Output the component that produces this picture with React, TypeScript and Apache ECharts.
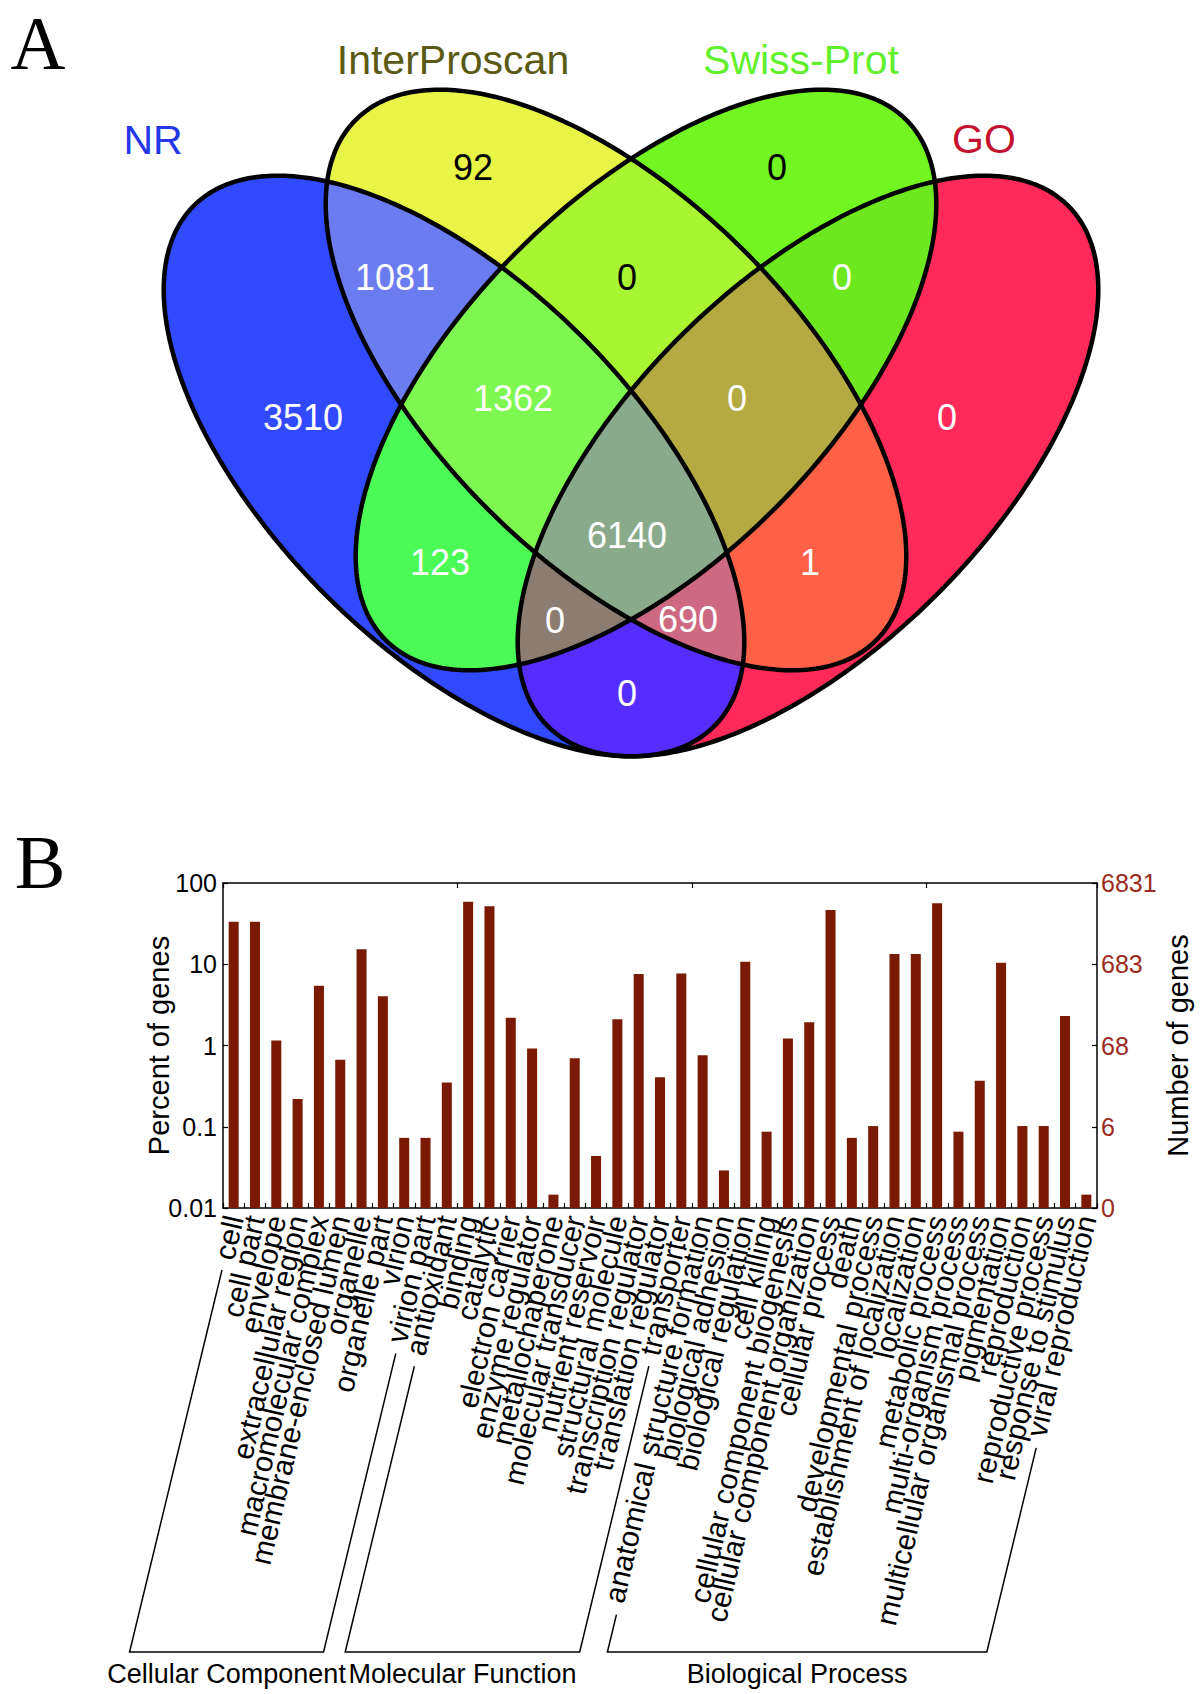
import React, { useEffect, useRef } from 'react';
import * as echarts from 'echarts';

// ---------------- data ----------------
const categories = [
  'cell', 'cell part', 'envelope', 'extracellular region', 'macromolecular complex',
  'membrane-enclosed lumen', 'organelle', 'organelle part', 'virion', 'virion part',
  'antioxidant', 'binding', 'catalytic', 'electron carrier', 'enzyme regulator',
  'metallochaperone', 'molecular transducer', 'nutrient reservoir', 'structural molecule',
  'transcription regulator', 'translation regulator', 'transporter',
  'anatomical structure formation', 'biological adhesion', 'biological regulation',
  'cell killing', 'cellular component biogenesis', 'cellular component organization',
  'cellular process', 'death', 'developmental process', 'establishment of localization',
  'localization', 'metabolic process', 'multi-organism process',
  'multicellular organismal process', 'pigmentation', 'reproduction',
  'reproductive process', 'response to stimulus', 'viral reproduction',
];
const percentOfGenes = [
  33.4, 33.4, 1.15, 0.22, 5.45, 0.67, 15.3, 4.03, 0.073, 0.073,
  0.35, 58.9, 51.7, 2.2, 0.92, 0.0146, 0.695, 0.0437, 2.1, 7.6, 0.406, 7.7,
  0.76, 0.029, 10.7, 0.087, 1.22, 1.93, 46.5, 0.073, 0.102, 13.4, 13.4, 56.2,
  0.087, 0.369, 10.4, 0.102, 0.102, 2.3, 0.0146,
];
const groupNames = ['Cellular Component', 'Molecular Function', 'Biological Process'];
const groupSizes = [10, 12, 19];
const totalGenes = 6831;
const percentMin = 0.01;
const percentMax = 100;

const vennSetNames = ['NR', 'InterProscan', 'Swiss-Prot', 'GO'];
// membership key: NR, InterProscan, Swiss-Prot, GO
const vennRegionKeys = [
  '1000', '0100', '0010', '0001',
  '1100', '0110', '0011', '1010', '1001', '0101',
  '1110', '0111', '1101', '1011', '1111',
];
const vennRegionCounts = [
  3510, 92, 0, 0,
  1081, 0, 0, 123, 0, 1,
  1362, 0, 690, 0, 6140,
];

// ---------------- layout & style ----------------
const FONT = '"Liberation Sans", Arial, Helvetica, sans-serif';
const SERIF = '"Liberation Serif", "Times New Roman", serif';
const BAR_COLOR = '#7A1A04';
const RIGHT_LABEL_COLOR = '#9B2B1E';
const GRID = { left: 223, right: 100, top: 883, bottom: 486 };
const LABEL_ROT = 77;
const LABEL_FONT = 29.5;
const LABEL_MARGIN = 8;
const ARM_START_ANGLE = 77.8;
const ARM_ANGLE = 76.4;
const BRACKET_BOTTOM = 1652;
const BRACKET_GAP = 11;
const GROUP_LABEL_Y = 1674;

const ELLIPSE_A = 368;
const ELLIPSE_B = 182;
const ellipseLayout = [
  { cx: 454, cy: 466, rot: 45 },
  { cx: 616, cy: 380, rot: 45 },
  { cx: 646, cy: 380, rot: -45 },
  { cx: 808, cy: 466, rot: -45 },
];
const setLabelLayout = [
  { x: 153, y: 140, color: '#2438E8' },
  { x: 453, y: 60, color: '#5A5A14' },
  { x: 801, y: 60, color: '#62F02C' },
  { x: 984, y: 139, color: '#C4122E' },
];
const regionStyle: Record<string, { fill: string; x: number; y: number; text: string }> = {
  '1000': { fill: '#3149FF', x: 303, y: 417, text: '#FFFFFF' },
  '0100': { fill: '#E8F546', x: 473, y: 167, text: '#000000' },
  '0010': { fill: '#72F520', x: 777, y: 167, text: '#000000' },
  '0001': { fill: '#FF2A5A', x: 947, y: 417, text: '#FFFFFF' },
  '1100': { fill: '#6A7CF0', x: 395, y: 277, text: '#FFFFFF' },
  '0110': { fill: '#A9F532', x: 627, y: 277, text: '#000000' },
  '0011': { fill: '#6EE81E', x: 842, y: 277, text: '#FFFFFF' },
  '1010': { fill: '#4CFA55', x: 440, y: 562, text: '#FFFFFF' },
  '1001': { fill: '#552DFF', x: 627, y: 693, text: '#FFFFFF' },
  '0101': { fill: '#FF6046', x: 810, y: 562, text: '#FFFFFF' },
  '1110': { fill: '#7EF850', x: 513, y: 398, text: '#FFFFFF' },
  '0111': { fill: '#B5A941', x: 737, y: 398, text: '#FFFFFF' },
  '1101': { fill: '#CD6982', x: 688, y: 619, text: '#FFFFFF' },
  '1011': { fill: '#8C7D73', x: 555, y: 620, text: '#FFFFFF' },
  '1111': { fill: '#8AAA8C', x: 627, y: 535, text: '#FFFFFF' },
};

// ---------------- geometry helpers ----------------
type Pt = number[];
function ellipsePoints(e: { cx: number; cy: number; rot: number }, n = 360): Pt[] {
  const th = (e.rot * Math.PI) / 180;
  const c = Math.cos(th), s = Math.sin(th);
  const pts: Pt[] = [];
  for (let i = 0; i < n; i++) {
    const t = (2 * Math.PI * i) / n;
    const u = ELLIPSE_A * Math.cos(t), v = ELLIPSE_B * Math.sin(t);
    pts.push([e.cx + u * c - v * s, e.cy + u * s + v * c]);
  }
  return pts;
}
function clipConvex(subject: Pt[], clip: Pt[]): Pt[] {
  let area = 0;
  for (let i = 0; i < clip.length; i++) {
    const p = clip[i], q = clip[(i + 1) % clip.length];
    area += p[0] * q[1] - q[0] * p[1];
  }
  const sg = area >= 0 ? 1 : -1;
  let output = subject;
  for (let i = 0; i < clip.length && output.length; i++) {
    const A = clip[i], B = clip[(i + 1) % clip.length];
    const side = (P: Pt) => sg * ((B[0] - A[0]) * (P[1] - A[1]) - (B[1] - A[1]) * (P[0] - A[0]));
    const input = output;
    output = [];
    for (let j = 0; j < input.length; j++) {
      const E = input[j], S = input[(j + input.length - 1) % input.length];
      const dE = side(E), dS = side(S);
      if (dE >= 0) {
        if (dS < 0) {
          const t = dS / (dS - dE);
          output.push([S[0] + t * (E[0] - S[0]), S[1] + t * (E[1] - S[1])]);
        }
        output.push(E);
      } else if (dS >= 0) {
        const t = dS / (dS - dE);
        output.push([S[0] + t * (E[0] - S[0]), S[1] + t * (E[1] - S[1])]);
      }
    }
  }
  return output;
}

export default function App() {
  const ref = useRef<HTMLDivElement>(null);
  useEffect(() => {
    document.body.style.margin = '0';
    const chart = echarts.init(ref.current!, null, { renderer: 'svg' });
    const axisLine = { show: true, lineStyle: { color: '#000', width: 1.5 } };
    const tick = { show: true, inside: true, length: 5, lineStyle: { color: '#000', width: 1.2 } };
    chart.setOption({
      animation: false,
      grid: { ...GRID },
      xAxis: [
        {
          type: 'category', data: categories, position: 'bottom', boundaryGap: true,
          axisLine, axisTick: tick,
          axisLabel: { interval: 0, rotate: LABEL_ROT, fontSize: LABEL_FONT, fontFamily: FONT, color: '#000', margin: LABEL_MARGIN },
          splitLine: { show: false },
        },
        {
          type: 'category', data: categories, position: 'top', boundaryGap: true,
          axisLine, axisTick: tick,
          axisLabel: { show: false }, splitLine: { show: false },
        },
      ],
      yAxis: [
        {
          type: 'log', logBase: 10, min: percentMin, max: percentMax, position: 'left',
          name: 'Percent of genes', nameLocation: 'middle', nameRotate: 90, nameGap: 50,
          nameMoveOverlap: false,
          nameTextStyle: { fontSize: 29, fontFamily: FONT, color: '#000' },
          axisLine, axisTick: tick,
          axisLabel: { fontSize: 25, fontFamily: FONT, color: '#000', margin: 6 },
          splitLine: { show: false }, minorTick: { show: false },
        },
        {
          type: 'log', logBase: 10, min: percentMin, max: percentMax, position: 'right',
          name: 'Number of genes', nameLocation: 'middle', nameRotate: 90, nameGap: 66,
          nameMoveOverlap: false,
          nameTextStyle: { fontSize: 29, fontFamily: FONT, color: '#000' },
          axisLine, axisTick: tick,
          axisLabel: {
            fontSize: 25, fontFamily: FONT, color: RIGHT_LABEL_COLOR, margin: 4,
            formatter: (v: number) => String(Math.floor(v * totalGenes / 100 + 1e-9)),
          },
          splitLine: { show: false },
        },
      ],
      series: [
        {
          type: 'custom',
          xAxisIndex: 0, yAxisIndex: 0,
          encode: { x: 0, y: 1 },
          data: percentOfGenes.map((v, i) => [i, v]),
          renderItem: (params: any, api: any) => {
            const i = api.value(0);
            const v = api.value(1);
            const top = api.coord([i, v]);
            const base = api.coord([i, percentMin]);
            const w = api.size([1, 1])[0] * 0.47;
            return {
              type: 'rect',
              shape: { x: top[0] - w / 2, y: top[1], width: w, height: base[1] - top[1] },
              style: { fill: BAR_COLOR },
            };
          },
        },
      ],
    });

    // ---- Venn diagram ----
    const elements: any[] = [];
    const polys = ellipseLayout.map((e) => ellipsePoints(e));
    for (let k = 1; k <= 4; k++) {
      vennRegionKeys.forEach((key) => {
        const members = key.split('').map((c, j) => (c === '1' ? j : -1)).filter((j) => j >= 0);
        if (members.length !== k) return;
        let poly = polys[members[0]];
        for (let m = 1; m < members.length; m++) poly = clipConvex(poly, polys[members[m]]);
        if (poly.length < 3) return;
        elements.push({ type: 'polygon', silent: true, shape: { points: poly }, style: { fill: regionStyle[key].fill } });
      });
    }
    polys.forEach((p) => {
      elements.push({ type: 'polygon', silent: true, shape: { points: p }, style: { fill: 'none', stroke: '#000', lineWidth: 4.5 } });
    });
    vennRegionKeys.forEach((key, idx) => {
      const st = regionStyle[key];
      elements.push({
        type: 'text', silent: true, x: st.x, y: st.y,
        style: { text: String(vennRegionCounts[idx]), fill: st.text, font: `36px ${FONT}`, textAlign: 'center', textVerticalAlign: 'middle' },
      });
    });
    vennSetNames.forEach((name, i) => {
      const l = setLabelLayout[i];
      elements.push({
        type: 'text', silent: true, x: l.x, y: l.y,
        style: { text: name, fill: l.color, font: `41px ${FONT}`, textAlign: 'center', textVerticalAlign: 'middle' },
      });
    });
    // panel letters
    elements.push({ type: 'text', silent: true, x: 38, y: 43, style: { text: 'A', fill: '#000', font: `76px ${SERIF}`, textAlign: 'center', textVerticalAlign: 'middle' } });
    elements.push({ type: 'text', silent: true, x: 40, y: 862, style: { text: 'B', fill: '#000', font: `76px ${SERIF}`, textAlign: 'center', textVerticalAlign: 'middle' } });

    // ---- group brackets ----
    const cv = document.createElement('canvas');
    const ctx = cv.getContext('2d')!;
    ctx.font = `${LABEL_FONT}px ${FONT}`;
    const axisY = chart.convertToPixel({ yAxisIndex: 0 }, percentMin) as number;
    const ang = (ARM_START_ANGLE * Math.PI) / 180;
    const armAng = (ARM_ANGLE * Math.PI) / 180;
    const armTop = (i: number): Pt => {
      const x = chart.convertToPixel({ xAxisIndex: 0 }, i) as number;
      const d = ctx.measureText(categories[i]).width + BRACKET_GAP;
      return [x - d * Math.cos(ang), axisY + LABEL_MARGIN + d * Math.sin(ang)];
    };
    const armBottom = (p: Pt): Pt => {
      const t = (BRACKET_BOTTOM - p[1]) / Math.sin(armAng);
      return [p[0] - t * Math.cos(armAng), BRACKET_BOTTOM];
    };
    let start = 0;
    groupSizes.forEach((n, g) => {
      const a = armTop(start);
      const b = armTop(start + n - 1);
      const a2 = armBottom(a);
      const b2 = armBottom(b);
      elements.push({
        type: 'polyline', silent: true,
        shape: { points: [a, a2, b2, b] },
        style: { stroke: '#000', lineWidth: 1.5, fill: 'none' },
      });
      elements.push({
        type: 'text', silent: true, x: (a2[0] + b2[0]) / 2, y: GROUP_LABEL_Y,
        style: { text: groupNames[g], fill: '#000', font: `27px ${FONT}`, textAlign: 'center', textVerticalAlign: 'middle' },
      });
      start += n;
    });

    chart.setOption({ graphic: { elements } });
    return () => chart.dispose();
  }, []);
  return <div ref={ref} style={{ width: 1200, height: 1694 }} />;
}
